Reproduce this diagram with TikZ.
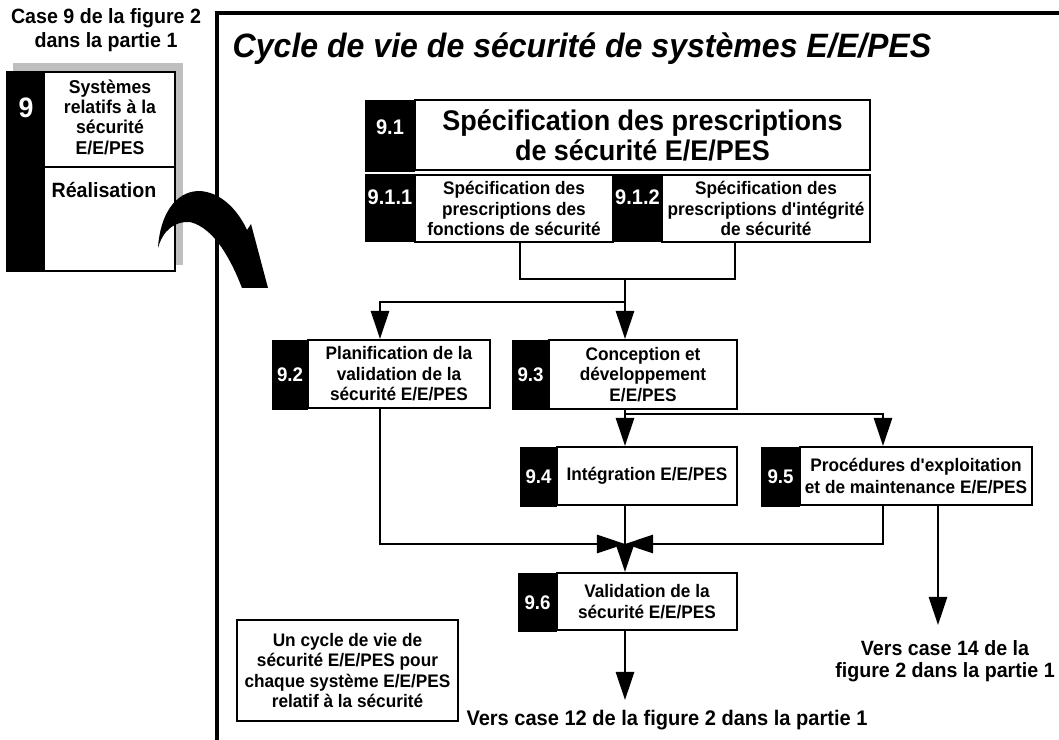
\documentclass[tikz,border=0pt]{standalone}
\usepackage{fontspec}
\setmainfont{Liberation Sans}[FakeStretch=0.95]
\usetikzlibrary{arrows.meta}

\begin{document}
\begin{tikzpicture}[x=0.025cm,y=-0.025cm,line width=1.5pt,
    texte/.style={font=\fontsize{12.9}{14.5}\selectfont\bfseries,align=center},
    boite/.style={draw,fill=white,inner sep=0pt,texte},
    numero/.style={fill=black,text=white,inner sep=0pt,font=\fontsize{14}{16}\selectfont\bfseries},
    fleche/.style={-{Triangle[length=20pt,width=13pt]}}]
    \useasboundingbox (0,0) rectangle (1059,740); % cadre de la page
    % case 9 de la partie 1
    \node[texte,font=\fontsize{14.7}{17}\selectfont\bfseries] (case) at (106,30) {Case 9 de la figure 2\\dans la partie 1};
    \fill[gray!50] (13,63) rectangle (183,265); % ombre
    \draw[fill=white] (7,72) rectangle (175,271); % case 9
    \fill (7,72) rectangle (45,271); % bande noire
    \draw (45,167) -- (175,167); % separation
    \node[text=white,font=\fontsize{20}{22}\selectfont\bfseries] (num9) at (26,108) {9};
    \node[texte,font=\fontsize{13.2}{14.5}\selectfont\bfseries] (sys9) at (110,117) {Systèmes\\relatifs à la\\sécurité\\E/E/PES};
    \node[texte,font=\fontsize{14.7}{16}\selectfont\bfseries] (rea9) at (104,190) {Réalisation};
    % fleche courbe
    \fill (158,248) .. controls (160,215) and (175,192) .. (198,191) .. controls (220,191) and (238,210) .. (247,230)
      -- (251,224) -- (268,288) -- (242,288) .. controls (232,262) and (215,228) .. (190,222)
      .. controls (175,221) and (163,230) .. (158,248) -- cycle;
    % cadre du cycle de vie
    \draw[line width=2.2pt] (217,740) -- (217,13) -- (1059,13);
    \node[font=\fontsize{24}{26}\selectfont\bfseries\itshape] (titre) at (582,49) {Cycle de vie de sécurité de systèmes E/E/PES};
    % case 9.1
    \node[numero,font=\fontsize{15}{17}\selectfont\bfseries,minimum width=1.25cm,minimum height=1.8cm,text depth=12.8pt] (n91) at (390,136) {9.1};
    \node[boite,font=\fontsize{20.2}{21.5}\selectfont\bfseries,minimum width=11.375cm,minimum height=1.75cm] (b91) at (642.5,135) {Spécification des prescriptions\\de sécurité E/E/PES};
    \node[numero,font=\fontsize{15}{17}\selectfont\bfseries,minimum width=1.25cm,minimum height=1.7cm,text depth=15.6pt] (n911) at (390,208) {9.1.1};
    \node[boite,font=\fontsize{12.9}{14.5}\selectfont\bfseries,minimum width=4.95cm,minimum height=1.675cm] (b911) at (514,208.5) {Spécification des\\prescriptions des\\fonctions de sécurité};
    \node[numero,font=\fontsize{15}{17}\selectfont\bfseries,minimum width=1.225cm,minimum height=1.7cm,text depth=15.6pt] (n912) at (637.5,208) {9.1.2};
    \node[boite,font=\fontsize{12.9}{14.5}\selectfont\bfseries,minimum width=5.2cm,minimum height=1.675cm] (b912) at (766,208.5) {Spécification des\\prescriptions d\textquotesingle intégrité\\de sécurité};
    % cases 9.2 et 9.3
    \node[numero,minimum width=0.9cm,minimum height=1.75cm] (n92) at (290,375) {9.2};
    \node[boite,minimum width=4.55cm,minimum height=1.7cm] (b92) at (399,374) {Planification de la\\validation de la\\sécurité E/E/PES};
    \node[numero,minimum width=0.925cm,minimum height=1.75cm] (n93) at (530.5,375) {9.3};
    \node[boite,minimum width=4.7cm,minimum height=1.725cm] (b93) at (643,374.5) {Conception et\\développement\\E/E/PES};
    % cases 9.4 et 9.5
    \node[numero,minimum width=0.925cm,minimum height=1.5cm] (n94) at (538.5,477) {9.4};
    \node[boite,minimum width=4.5cm,minimum height=1.45cm] (b94) at (647,476) {Intégration E/E/PES};
    \node[numero,minimum width=0.975cm,minimum height=1.5cm] (n95) at (780.5,477) {9.5};
    \node[boite,font=\fontsize{12.9}{15.5}\selectfont\bfseries,minimum width=5.8cm,minimum height=1.45cm] (b95) at (916,476) {Procédures d\textquotesingle exploitation\\et de maintenance E/E/PES};
    % case 9.6
    \node[numero,minimum width=0.975cm,minimum height=1.475cm] (n96) at (537.5,602.5) {9.6};
    \node[boite,minimum width=4.5cm,minimum height=1.425cm] (b96) at (647,601.5) {Validation de la\\sécurité E/E/PES};
    % note
    \node[boite,minimum width=5.525cm,minimum height=2.525cm] (note) at (347.5,670.5) {Un cycle de vie de\\sécurité E/E/PES pour\\chaque système E/E/PES\\relatif à la sécurité};
    % renvois
    \node[texte,font=\fontsize{14.7}{16}\selectfont\bfseries] (v14) at (945,661) {Vers case 14 de la\\figure 2 dans la partie 1};
    \node[texte,font=\fontsize{15}{17}\selectfont\bfseries] (v12) at (667,720) {Vers case 12 de la figure 2 dans la partie 1};
    % points de jonction
    \coordinate (g1) at (520,279);
    \coordinate (d1) at (735,279);
    \coordinate (c1) at (625,279);
    \coordinate (c2) at (625,302);
    \coordinate (c3) at (380,302);
    \coordinate (c4) at (625,414);
    \coordinate (c5) at (883,414);
    \coordinate (m) at (625,544);
    \coordinate (m1) at (380,544);
    \coordinate (m2) at (883,544);
    \coordinate (p14) at (938,625);
    \coordinate (p12) at (625,700);
    % liaisons
    \draw (b911.south -| g1) -- (g1) -- (d1) -- (b912.south -| d1); % 9.1.1 et 9.1.2
    \draw[fleche] (c1) -- (b93.north -| c1); % vers 9.3
    \draw[fleche] (c2) -- (c3) -- (b92.north -| c3); % vers 9.2
    \draw[fleche] (b93.south -| c4) -- (b94.north -| c4); % vers 9.4
    \draw[fleche] (c4) -- (c5) -- (b95.north -| c5); % vers 9.5
    \draw[fleche] (b92.south -| m1) -- (m1) -- (m); % 9.2 vers 9.6
    \draw[fleche] (b95.south -| m2) -- (m2) -- (m); % 9.5 vers 9.6
    \draw[fleche] (b94.south -| m) -- (b96.north -| m); % 9.4 vers 9.6
    \draw[fleche] (b95.south -| p14) -- (p14); % vers case 14
    \draw[fleche] (b96.south -| p12) -- (p12); % vers case 12
\end{tikzpicture}
\end{document}
